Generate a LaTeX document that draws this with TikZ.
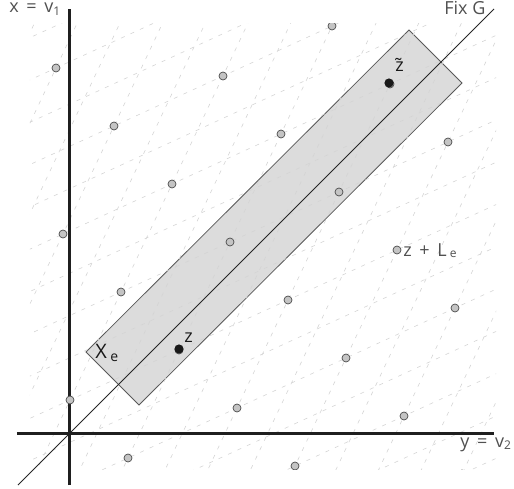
\documentclass[tikz,border=0pt]{standalone}
\usepackage{fontspec}
\setmainfont{Open Sans}
\definecolor{boxgray}{HTML}{DCDCDC}
\definecolor{ptgray}{HTML}{C4C4C4}
\definecolor{txtgray}{HTML}{505050}
\begin{document}
\begin{tikzpicture}
  [x=0.5pt, y=0.5pt, font=\fontsize{9}{11}\selectfont,
   lattice pt/.style={circle,draw=black!70,fill=ptgray,line width=0.35pt,inner sep=0pt,minimum size=4pt},
   orbit pt/.style={circle,fill=black!90,inner sep=0pt,minimum size=4.6pt},
   grid line/.style={black!17,line width=0.3pt,dash pattern=on 2pt off 3.2pt},
   axis/.style={black!88,line width=1.5pt},
   lbl/.style={anchor=base west,inner sep=0pt,text=txtgray}]
  \useasboundingbox (-70,-55) rectangle (444,433);

  % the cell X_e
  \coordinate (xa) at (339,403);
  \coordinate (xb) at (392,350);
  \coordinate (xc) at (69,28);
  \coordinate (xd) at (16,81);
  \draw[fill=boxgray,draw=black!65,line width=0.4pt] (xa) -- (xb) -- (xc) -- (xd) -- cycle;

  % lattice lines
  \begin{scope}
    \clip (-40,-36) rectangle (426,409);
    \foreach \k in {-20,...,30}
      \draw[grid line] ({29*\k-306},{33-29*\k-648}) -- ({29*\k+306},{33-29*\k+648});
    \foreach \k in {-20,...,20}
      \draw[grid line] ({25.5*\k-654},{33+54*\k-300}) -- ({25.5*\k+654},{33+54*\k+300});
  \end{scope}

  % Fix G
  \coordinate (g0) at (-52,-52);
  \coordinate (g1) at (424,424);
  \draw[black!85,line width=0.45pt] (g0) -- (g1);

  % axes
  \coordinate (v0) at (0,-52);
  \coordinate (v1) at (0,424);
  \coordinate (h0) at (-53,0);
  \coordinate (h1) at (424,0);
  \draw[axis] (v0) -- (v1);
  \draw[axis] (h0) -- (h1);

  % lattice points
  \begin{scope}
    \clip (-40,-36) rectangle (420,409);
    \foreach \i in {-3,...,5}
      \foreach \j in {-1,...,5}
        \node[lattice pt] (p\i\j) at ({58*\i+51*\j},{-58*\i+108*\j+33}) {};
  \end{scope}

  \node[orbit pt] (z) at (109,84) {};
  \node[orbit pt] (zt) at (319,350) {};

  % labels
  \node[lbl] (xlbl) at (-61,420) {x\, =\, v\textsubscript{1}};
  \node[lbl] (ylbl) at (390,-14) {y\, =\, v\textsubscript{2}};
  \node[lbl] (fixlbl) at (374,418) {Fix G};
  \node[lbl] (zlatt) at (333,177) {z\, +\, L\,\textsubscript{e}};
  \node[lbl,text=black!90] (xelbl) at (25,75) {\fontsize{10}{12}\selectfont X\,\textsubscript{e}};
  \node[lbl,text=black!90] (zlbl) at (114,91) {z};
  \node[lbl,text=black!90] (ztlbl) at (325,361) {\~{z}};
\end{tikzpicture}
\end{document}
